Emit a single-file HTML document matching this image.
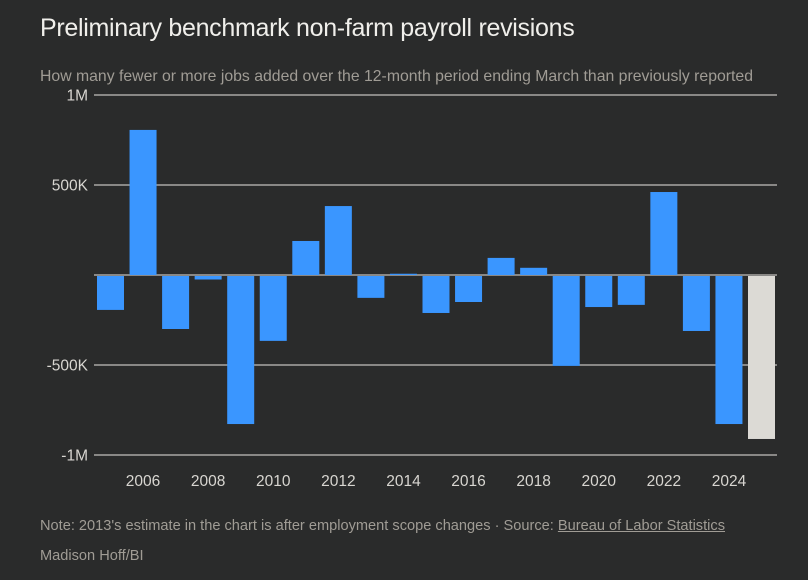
<!DOCTYPE html>
<html><head><meta charset="utf-8">
<style>
html,body{margin:0;padding:0;background:#2a2b2b;}
body{width:808px;height:580px;overflow:hidden;position:relative;font-family:"Liberation Sans",sans-serif;}
.t{position:absolute;white-space:nowrap;}
</style></head><body>
<div class="t" style="left:40px;top:14px;font-size:25px;color:#f0efeb;letter-spacing:-0.3px;">Preliminary benchmark non-farm payroll revisions</div>
<div class="t" style="left:40px;top:68px;font-size:15.8px;color:#a09c95;">How many fewer or more jobs added over the 12-month period ending March than previously reported</div>
<svg id="chart" width="808" height="580" style="position:absolute;left:0;top:0;"></svg>
<div class="t" style="left:40px;top:518px;font-size:14.6px;color:#a09c95;">Note: 2013's estimate in the chart is after employment scope changes · Source: <span style="text-decoration:underline;">Bureau of Labor Statistics</span></div>
<div class="t" style="left:40px;top:548px;font-size:14.6px;color:#a09c95;">Madison Hoff/BI</div>
<script>
const years=[2005,2006,2007,2008,2009,2010,2011,2012,2013,2014,2015,2016,2017,2018,2019,2020,2021,2022,2023,2024,2025];
const values=[-194,806,-300,-25,-828,-366,189,383,-127,7,-211,-150,95,40,-505,-178,-166,461,-311,-828,-911];
const yTicks=[1000,500,0,-500,-1000];
const yTickLabels=["1M","500K","","-500K","-1M"];
const xTickYears=[2006,2008,2010,2012,2014,2016,2018,2020,2022,2024];
const NS="http://www.w3.org/2000/svg";
const svg=document.getElementById('chart');
const y=v=>275-v*0.18;
const x=yr=>110.5+(yr-2005)*32.55;
function mk(tag,attrs){const e=document.createElementNS(NS,tag);for(const k in attrs)e.setAttribute(k,attrs[k]);svg.appendChild(e);return e;}
yTicks.forEach((t,i)=>{
  const l=mk('line',{x1:94,x2:777,y1:y(t),y2:y(t),stroke:'#e8e6e1','stroke-width':1});
  
  
  if(yTickLabels[i]){
    const tx=mk('text',{x:88,y:y(t)+5.5,'text-anchor':'end',fill:'#d8d6d1','font-size':15.5,'font-family':'Liberation Sans, sans-serif'});
    tx.textContent=yTickLabels[i];
    
    
  }
});
years.forEach((yr,i)=>{
  const v=values[i];
  const top=v>=0?y(v):y(0)+1;
  const h=Math.abs(y(v)-y(0))-(v>=0?0:1);
  const r=mk('rect',{x:x(yr)-13.5,y:top,width:27,height:Math.max(h,1),fill:yr===2025?'#dcdad5':'#3a96ff'});
  
  
});
xTickYears.forEach(yr=>{
  const tx=mk('text',{x:x(yr),y:486,'text-anchor':'middle',fill:'#d8d6d1','font-size':15.5,'font-family':'Liberation Sans, sans-serif'});
  tx.textContent=yr;
  
  
});
</script>
</body></html>
